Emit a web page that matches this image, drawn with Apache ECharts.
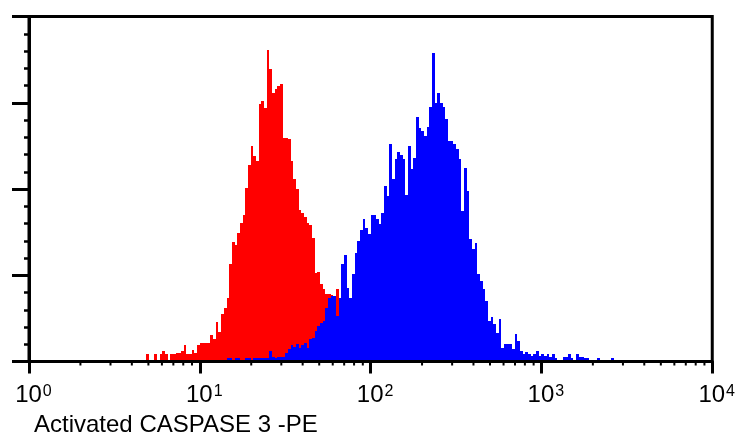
<!DOCTYPE html>
<html>
<head>
<meta charset="utf-8">
<script src="https://cdn.jsdelivr.net/npm/echarts@6/dist/echarts.min.js"></script>
<style>
  html, body { margin: 0; padding: 0; background: #fff; }
  #chart { width: 738px; height: 435px; }
</style>
</head>
<body>
<div id="chart"></div>
<script>
// 256 channels over 4 decades
const channelsPerDecade = 64;
const xTickValues = [1, 10, 100, 1000, 10000];
const axisTitle = "Activated CASPASE 3 -PE";

// unstained control (red), first channel = redStart
const redStart = 44;
const redCounts = [
  7, 0, 0, 7, 0, 7, 10, 7, 0, 7, 7, 8, 8, 10, 16, 7, 7, 11, 8, 16,
  18, 18, 18, 18, 26, 22, 39, 29, 47, 53, 63, 97, 119, 116, 128, 138, 146, 173, 196, 215,
  205, 200, 257, 260, 253, 311, 292, 268, 272, 275, 277, 223, 223, 222, 200, 182, 172, 151, 148, 144,
  138, 136, 123, 88, 89, 77, 72, 67, 67, 66, 64, 72, 50, 35, 22, 14, 9, 5
];

// stained sample (blue), first channel = blueStart
const blueStart = 74;
const blueCounts = [
  3, 3, 0, 3, 3, 0, 0, 3, 3, 0, 3, 3, 3, 3, 3, 3, 10, 4, 3, 4,
  4, 4, 8, 12, 16, 14, 17, 13, 16, 18, 13, 22, 23, 30, 35, 38, 40, 53, 63, 65,
  65, 45, 63, 97, 106, 73, 63, 87, 108, 120, 131, 142, 133, 127, 146, 146, 142, 137, 148, 175,
  165, 217, 182, 202, 209, 206, 202, 166, 215, 192, 203, 244, 233, 230, 225, 234, 254, 308, 258, 268,
  258, 254, 242, 220, 220, 217, 212, 202, 150, 193, 170, 122, 112, 118, 87, 80, 72, 60, 40, 44,
  37, 28, 42, 13, 17, 17, 17, 12, 27, 20, 10, 7, 9, 7, 5, 7, 10, 5, 7, 5,
  7, 4, 7, 3, 0, 0, 4, 4, 7, 3, 0, 7, 4, 4, 3, 3, 0, 0, 0, 3,
  0, 0, 0, 0, 3
];

const yMax = 344;
const yInterval = 86;

function binEdge(ch) {
  return Math.pow(10, ch / channelsPerDecade);
}

function toBins(start, counts) {
  return counts.map((c, i) => [binEdge(start + i), c, binEdge(start + i + 1)]);
}

const minorTickValues = [];
xTickValues.slice(0, -1).forEach(d => {
  for (let k = 2; k <= 9; k++) minorTickValues.push([d * k]);
});

function renderBins(params, api) {
  const count = api.value(1);
  if (!count) return null;
  const p0 = api.coord([api.value(0), count]);
  const p1 = api.coord([api.value(2), 0]);
  // snap to whole pixels so neighbouring bars meet without seams
  const x0 = Math.round(p0[0]);
  const x1 = Math.round(p1[0]);
  const y0 = Math.round(p0[1]);
  return {
    type: "rect",
    shape: { x: x0, y: y0, width: x1 - x0, height: p1[1] - y0 },
    style: { fill: api.visual("color") }
  };
}

function renderMinorTick(params, api) {
  const p = api.coord([api.value(0), 0]);
  return {
    type: "line",
    shape: { x1: p[0], y1: p[1], x2: p[0], y2: p[1] + 4 },
    style: { stroke: "#000", lineWidth: 2 }
  };
}

const font = '"Liberation Sans", Arial, sans-serif';
const chart = echarts.init(document.getElementById("chart"));

chart.setOption({
  animation: false,
  grid: {
    left: 29, right: 24, top: 16.5, bottom: 73.5,
    show: true, borderColor: "#000", borderWidth: 3, backgroundColor: "transparent"
  },
  graphic: [{
    type: "text",
    left: 34,
    top: 413,
    style: { text: axisTitle, font: "24px " + font, fill: "#000" }
  }],
  xAxis: {
    type: "log",
    logBase: 10,
    min: 1,
    max: 10000,
    z: 5,
    axisLine: { lineStyle: { color: "#000", width: 3 } },
    axisTick: { length: 12, lineStyle: { color: "#000", width: 3 } },
    splitLine: { show: false },
    axisLabel: {
      margin: 22,
      formatter: v => {
        const e = Math.round(Math.log10(v));
        return "{p|" + e + "}{b|10}{s|" + e + "}";
      },
      rich: {
        p: { fontSize: 16, fontFamily: font, color: "transparent", lineHeight: 16, verticalAlign: "top" },
        b: { fontSize: 24, fontFamily: font, color: "#000", lineHeight: 24 },
        s: { fontSize: 16, fontFamily: font, color: "#000", lineHeight: 16, verticalAlign: "top", padding: [0, 0, 0, 1] }
      }
    }
  },
  yAxis: {
    type: "value",
    min: 0,
    max: yMax,
    interval: yInterval,
    z: 5,
    axisLine: { show: true, lineStyle: { color: "#000", width: 3 } },
    axisTick: { show: true, length: 17, lineStyle: { color: "#000", width: 3 } },
    minorTick: { show: true, splitNumber: 5, length: 5, lineStyle: { color: "#000", width: 2.5 } },
    axisLabel: { show: false },
    splitLine: { show: false }
  },
  series: [
    {
      name: "control",
      type: "custom",
      renderItem: renderBins,
      encode: { x: [0, 2], y: 1 },
      itemStyle: { color: "#ff0000" },
      data: toBins(redStart, redCounts),
      z: 1
    },
    {
      name: "caspase",
      type: "custom",
      renderItem: renderBins,
      encode: { x: [0, 2], y: 1 },
      itemStyle: { color: "#0000ff" },
      data: toBins(blueStart, blueCounts),
      z: 1
    },
    {
      name: "minorTicks",
      type: "custom",
      renderItem: renderMinorTick,
      encode: { x: 0 },
      clip: false,
      silent: true,
      data: minorTickValues,
      z: 6
    }
  ]
});
</script>
</body>
</html>
